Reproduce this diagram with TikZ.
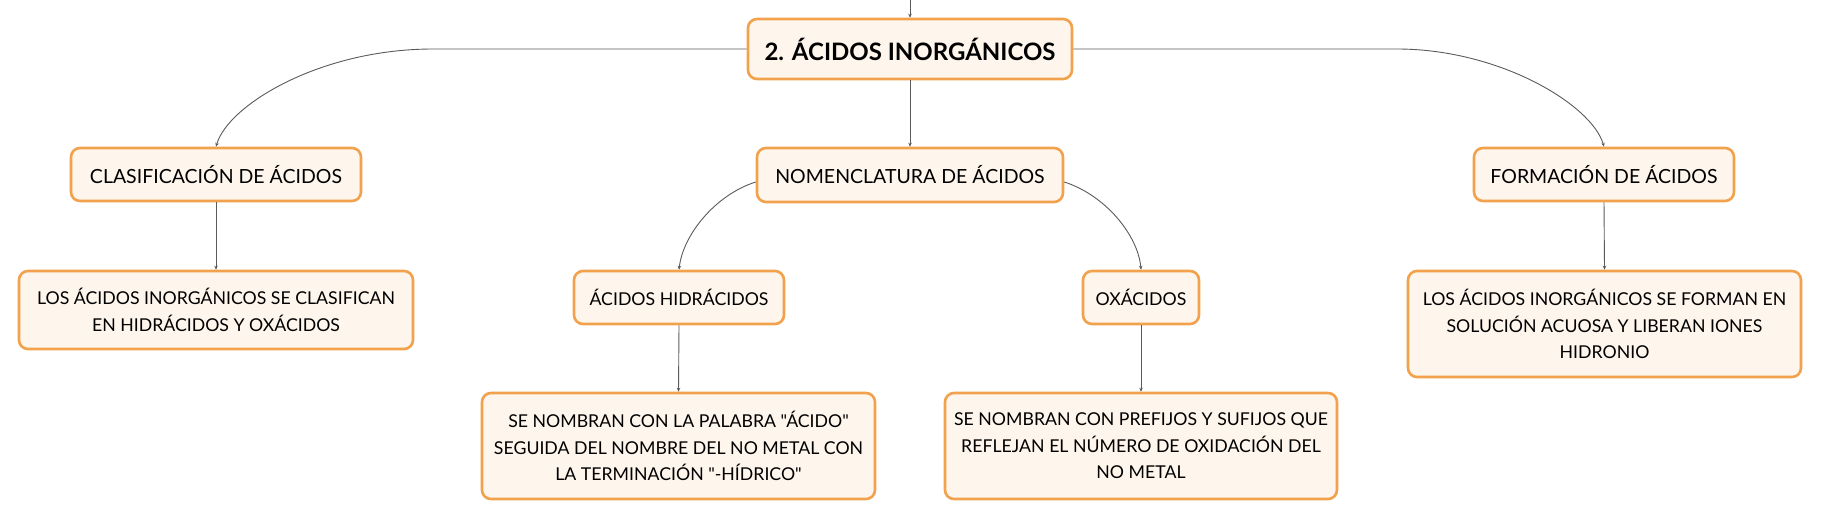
\documentclass[tikz,border=0pt]{standalone}
\usepackage{fontspec}
\setmainfont{Lato}[Ligatures=TeXOff]
\usetikzlibrary{arrows.meta,positioning}
\definecolor{boxborder}{HTML}{F2A24C}
\definecolor{boxfill}{HTML}{FEF5EC}
\definecolor{linkcol}{HTML}{5A5A5A}
\tikzset{
  mapbox/.style={draw=boxborder, fill=boxfill, line width=2.6pt, rounded corners=9pt,
    inner sep=0pt, align=center, font=\fontsize{19.5}{26}\selectfont},
  bodybox/.style={mapbox, font=\fontsize{17.7}{26.5}\selectfont},
  rootbox/.style={mapbox, font=\fontsize{24}{26}\selectfont\bfseries},
  link/.style={draw=linkcol, line width=0.9pt, -{Stealth[length=4pt,width=3.5pt]}}
}
\begin{document}
\begin{tikzpicture}[x=1pt,y=-1pt]
\useasboundingbox (0,0) rectangle (1821,520);
\node[rootbox, minimum width=324pt, minimum height=60pt] (root) at (910,49) {2. ÁCIDOS INORGÁNICOS};
\node[mapbox, minimum width=306pt, minimum height=54pt] (nom) at (910,175) {NOMENCLATURA DE ÁCIDOS};
\node[mapbox, minimum width=290pt, minimum height=53pt] (clas) at (216,174.5) {CLASIFICACIÓN DE ÁCIDOS};
\node[mapbox, minimum width=260pt, minimum height=53pt] (form) at (1604,174.5) {FORMACIÓN DE ÁCIDOS};
\node[bodybox, minimum width=394pt, minimum height=78pt] (clasT) at (216,310) {LOS ÁCIDOS INORGÁNICOS SE CLASIFICAN\\EN HIDRÁCIDOS Y OXÁCIDOS};
\node[bodybox, minimum width=393pt, minimum height=106pt] (formT) at (1604.5,324) {LOS ÁCIDOS INORGÁNICOS SE FORMAN EN\\SOLUCIÓN ACUOSA Y LIBERAN IONES\\HIDRONIO};
\node[bodybox, minimum width=210pt, minimum height=53pt] (hid) at (679,297.5) {ÁCIDOS HIDRÁCIDOS};
\node[bodybox, minimum width=116pt, minimum height=53pt] (oxa) at (1141,297.5) {OXÁCIDOS};
\node[bodybox, minimum width=393pt, minimum height=106pt] (hidT) at (678.5,446) {SE NOMBRAN CON LA PALABRA "ÁCIDO"\\SEGUIDA DEL NOMBRE DEL NO METAL CON\\LA TERMINACIÓN "-HÍDRICO"};
\node[bodybox, minimum width=392pt, minimum height=106pt] (oxaT) at (1141,446) {SE NOMBRAN CON PREFIJOS Y SUFIJOS QUE\\REFLEJAN EL NÚMERO DE OXIDACIÓN DEL\\NO METAL};
\coordinate (top) at (910,0);
\draw[link] (top) -- (root.north);
\draw[link] (root.south) -- (nom.north);
\draw[link] (root.west) -- (433,49) .. controls (320,49) and (228,105) .. (clas.north);
\draw[link] (root.east) -- (1397,49) .. controls (1500,49) and (1592,105) .. (form.north);
\draw[link] (clas.south) -- (clasT.north);
\draw[link] (form.south) -- (formT.north);
\draw[link] ([yshift=-7pt]nom.west) .. controls (715,195) and (683,235) .. (hid.north);
\draw[link] ([yshift=-7pt]nom.east) .. controls (1105,195) and (1138,235) .. (oxa.north);
\draw[link] (hid.south) -- (hidT.north);
\draw[link] (oxa.south) -- (oxaT.north);
\end{tikzpicture}
\end{document}
